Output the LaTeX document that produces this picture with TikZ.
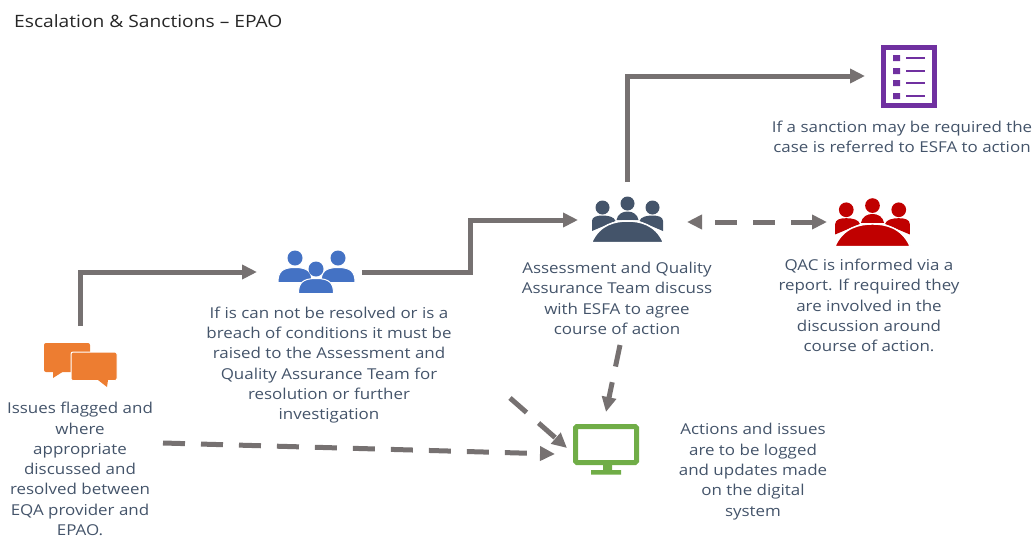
\documentclass[tikz,border=0pt]{standalone}
\usepackage{fontspec}
\setmainfont[FakeStretch=1.13]{Open Sans}
\usetikzlibrary{arrows.meta}

\definecolor{flowgrey}{HTML}{767171}
\definecolor{textblue}{HTML}{44546A}
\definecolor{chatorange}{HTML}{ED7D31}
\definecolor{peopleblue}{HTML}{4472C4}
\definecolor{sheetpurple}{HTML}{7030A0}
\definecolor{screengreen}{HTML}{70AD47}
\definecolor{qacred}{HTML}{C00000}

\tikzset{
  iconbox/.style={inner sep=0pt, outer sep=0pt},
  flow/.style={draw=flowgrey, line width=5pt, -{Triangle[length=15pt,width=14pt]}},
  dashflow/.style={flow, dash pattern=on 22pt off 16pt},
  caption/.style={inner sep=0pt, align=center, text=textblue, font=\fontsize{15}{20.3}\selectfont},
}

% round table with three people behind it
\newcommand{\tableicon}[4]{
  \begin{scope}[shift={(#1,#2)}, scale=#3]
    \fill[#4] (-25,-14.5) circle (7) (0,-18.5) circle (7) (25,-14.5) circle (7);
    \fill[#4] (-35.5,9) -- (-35.5,-1) .. controls (-35.5,-5) and (-31,-6.5) .. (-25,-6.5)
      .. controls (-19,-6.5) and (-13,-5) .. (-12,-1) -- cycle;
    \fill[#4] (35.5,9) -- (35.5,-1) .. controls (35.5,-5) and (31,-6.5) .. (25,-6.5)
      .. controls (19,-6.5) and (13,-5) .. (12,-1) -- cycle;
    \fill[#4] (-11,-2) .. controls (-10,-8) and (-5,-10.5) .. (0,-10.5)
      .. controls (5,-10.5) and (10,-8) .. (11,-2) -- cycle;
    \filldraw[fill=#4, draw=white, line width=1.5pt] (-36,20.5) .. controls (-28,2) and (-12,-1) .. (0,-1)
      .. controls (12,-1) and (28,2) .. (36,20.5) -- cycle;
  \end{scope}
}

% head and shoulders, head centre given
\newcommand{\personicon}[3]{
  \fill[peopleblue] (#1,#2) circle (7.5);
  \filldraw[fill=peopleblue, draw=white, line width=1pt]
    (#1-#3,#2+24.5) .. controls (#1-#3,#2+14) and (#1-#3+4,#2+9.5) .. (#1,#2+9.5)
    .. controls (#1+#3-4,#2+9.5) and (#1+#3,#2+14) .. (#1+#3,#2+24.5) -- cycle;
}

\begin{document}
\begin{tikzpicture}[x=1pt, y=-1pt]
  \useasboundingbox (0,0) rectangle (1033,539);

  \node[anchor=west, inner sep=0pt, text=black!85, font=\fontsize{17}{20}\selectfont] (title) at (14,21)
    {Escalation \& Sanctions – EPAO};

  % icons
  \node[iconbox, minimum width=74pt, minimum height=78pt] (chat) at (80,365) {};
  \node[iconbox, minimum width=105pt, minimum height=30pt] (people) at (309.5,272) {};
  \node[iconbox, minimum width=109pt, minimum height=40pt] (team) at (632.5,222) {};
  \node[iconbox, minimum width=92pt, minimum height=40pt] (qac) at (873,222) {};
  \node[iconbox, minimum width=32pt, minimum height=60pt] (sheet) at (881,76) {};
  \node[iconbox, minimum width=102pt, minimum height=84pt] (screen) at (606,454) {};

  \coordinate (teamtop) at (627.5,182);
  \coordinate (issuesend) at (163,443);
  \coordinate (raisedend) at (510,398);
  \coordinate (screencorner) at (567,448);
  \coordinate (teamend) at (620,345);

  % chat bubbles
  \fill[chatorange, rounded corners=2pt] (44,343) rectangle (90,372);
  \fill[chatorange] (53,371) -- (53,378) -- (64,371) -- cycle;
  \filldraw[fill=chatorange, draw=white, line width=1pt, rounded corners=2pt] (71,352) rectangle (117,380.5);
  \fill[chatorange] (98,380) -- (107,387) -- (108,380) -- cycle;

  % group
  \personicon{295}{258}{17}
  \personicon{338}{258}{17}
  \personicon{316}{269}{17.5}

  \tableicon{627.5}{222}{1}{textblue}
  \tableicon{872.5}{225}{1.05}{qacred}

  % sheet
  \draw[sheetpurple, line width=5pt] (883.5,47.5) rectangle (934.5,105.5);
  \fill[sheetpurple]
    (893,55) rectangle (900,61)
    (893,68) rectangle (900,74)
    (893,80) rectangle (900,86)
    (893,93) rectangle (900,99)
  ;
  \draw[sheetpurple, line width=2.5pt]
    (906,58) -- (925,58)
    (906,71) -- (925,71)
    (906,83) -- (925,83)
    (906,96) -- (925,96)
  ;

  % monitor
  \draw[screengreen, line width=5pt, rounded corners=1.5pt] (575.5,426.5) rectangle (636.5,462.5);
  \fill[screengreen]
    (603,465) rectangle (612,470)
    (591,470) rectangle (621,474.5)
  ;

  % connectors
  \draw[flow] (chat.north) |- (people.west);
  \draw[flow] (people.east) -- (470,272) -- (470,220) -- (team.west |- 0,220);
  \draw[flow] (teamtop) |- (sheet.west);
  \draw[dashflow, dash phase=24pt, {Triangle[length=15pt,width=14pt]}-{Triangle[length=15pt,width=14pt]}] (team.east) -- (qac.west);
  \draw[dashflow] (issuesend) -- (screen.west);
  \draw[dashflow] (raisedend) -- (screencorner);
  \draw[dashflow] (teamend) -- (screen.north);

  % captions
  \node[caption] (issuestext) at (80,469)
    {Issues flagged and\\where\\appropriate\\discussed and\\resolved between\\EQA provider and\\EPAO.};
  \node[caption] (peopletext) at (329,365)
    {If is can not be resolved or is a\\breach of conditions it must be\\raised to the Assessment and\\Quality Assurance Team for\\resolution or further\\investigation};
  \node[caption] (teamtext) at (617,298.5)
    {Assessment and Quality\\Assurance Team discuss\\with ESFA to agree\\course of action};
  \node[caption] (qactext) at (869,305.5)
    {QAC is informed via a\\report.  If required they\\are involved in the\\discussion around\\course of action.};
  \node[caption] (sheettext) at (902,137)
    {If a sanction may be required the\\case is referred  to ESFA to action};
  \node[caption] (screentext) at (753,471.5)
    {Actions and issues\\are to be logged\\and updates made\\on the digital\\system};
\end{tikzpicture}
\end{document}
